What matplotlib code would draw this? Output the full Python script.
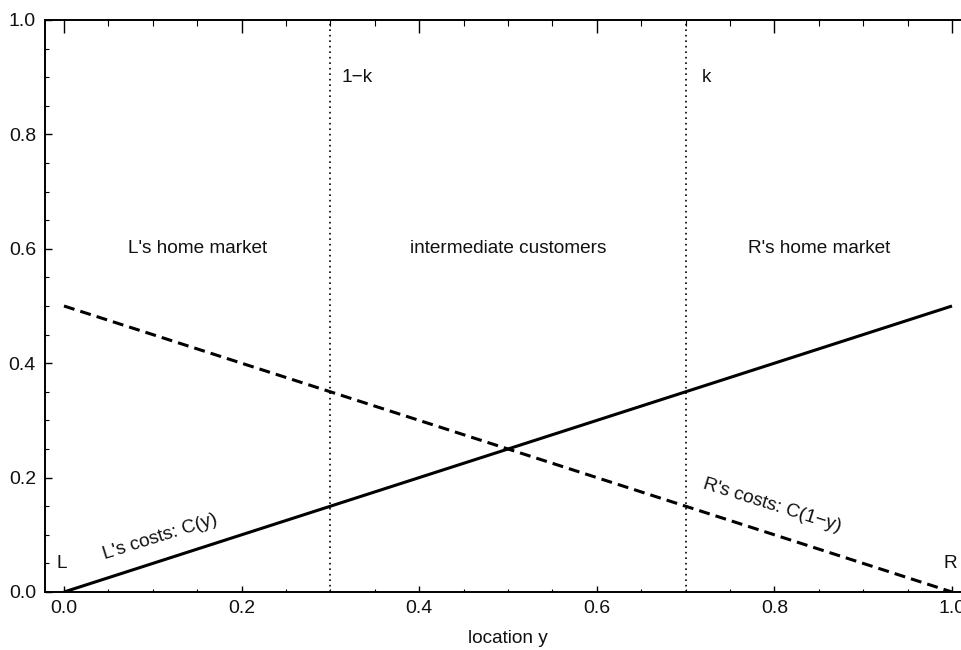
import matplotlib
matplotlib.use("Agg")
import matplotlib.pyplot as plt
from matplotlib.ticker import MultipleLocator

plt.rcParams['font.family'] = ['Liberation Sans', 'DejaVu Sans']

# Cost lines across locations y in [0, 1]
y_points = [0.0, 1.0]
cost_L = [0.0, 0.5]      # C(y)
cost_R = [0.5, 0.0]      # C(1-y)

# Market boundaries
k_low = 0.3              # 1-k
k_high = 0.7             # k

region_labels = ["L's home market", "intermediate customers", "R's home market"]
region_x = [0.15, 0.5, 0.85]
region_y = 0.6

x_ticks = [0.0, 0.2, 0.4, 0.6, 0.8, 1.0]
y_ticks = [0.0, 0.2, 0.4, 0.6, 0.8, 1.0]

fig = plt.figure(figsize=(9.62, 6.5), dpi=100)
left_px, right_px, top_px, bottom_px = 45, 971, 20, 592
ax = fig.add_axes([left_px / 962, (650 - bottom_px) / 650,
                   (right_px - left_px) / 962, (bottom_px - top_px) / 650])

ax.set_xlim(-0.0214, 1.0214)
ax.set_ylim(0.0, 1.0)

ax.plot(y_points, cost_L, color='black', lw=2.2, solid_capstyle='butt', zorder=3)
ax.plot(y_points, cost_R, color='black', lw=2.2, linestyle=(0, (3.6, 2.0)), zorder=3)

for xv in (k_low, k_high):
    ax.axvline(xv, color='black', lw=1.2, linestyle=(0, (1.0, 2.3)), zorder=2)

txt_kw = dict(fontsize=13.7, color='#111111')
ax.text(k_low + 0.012, 0.9, "1\u2212k", ha='left', va='center', **txt_kw)
ax.text(k_high + 0.018, 0.9, "k", ha='left', va='center', **txt_kw)
for lab, xv in zip(region_labels, region_x):
    ax.text(xv, region_y, lab, ha='center', va='center', **txt_kw)
ax.text(-0.002, 0.05, "L", ha='center', va='center', **txt_kw)
ax.text(0.998, 0.05, "R", ha='center', va='center', **txt_kw)
ax.text(0.108, 0.097, "L's costs: C(y)", ha='center', va='center',
        rotation=17.5, rotation_mode='anchor', **txt_kw)
ax.text(0.797, 0.152, "R's costs: C(1\u2212y)", ha='center', va='center',
        rotation=-17.5, rotation_mode='anchor', **txt_kw)

ax.set_xlabel("location y", fontsize=13.7, color='#111111', labelpad=9.5)

ax.set_xticks(x_ticks)
ax.set_yticks(y_ticks)
ax.set_xticklabels([f"{v:.1f}" for v in x_ticks])
ax.set_yticklabels([f"{v:.1f}" for v in y_ticks])
ax.xaxis.set_minor_locator(MultipleLocator(0.05))
ax.yaxis.set_minor_locator(MultipleLocator(0.05))

for s in ax.spines.values():
    s.set_linewidth(1.4)
    s.set_color('black')

ax.tick_params(axis='x', which='major', direction='in', length=4, width=1.0,
               labelsize=14, pad=5.5, top=True, labelcolor='#111111')
ax.tick_params(axis='x', which='minor', direction='in', length=2.5, width=0.8, top=True)
ax.tick_params(axis='y', which='major', direction='in', length=5, width=1.0,
               labelsize=14, pad=6.5, labelcolor='#111111')
ax.tick_params(axis='y', which='minor', direction='in', length=3, width=0.8)

# longer ticks along the top edge
for t in ax.xaxis.get_major_ticks():
    t.tick2line.set_markersize(9)
for t in ax.xaxis.get_minor_ticks():
    t.tick2line.set_markersize(4)

fig.savefig("out.png", dpi=100)
